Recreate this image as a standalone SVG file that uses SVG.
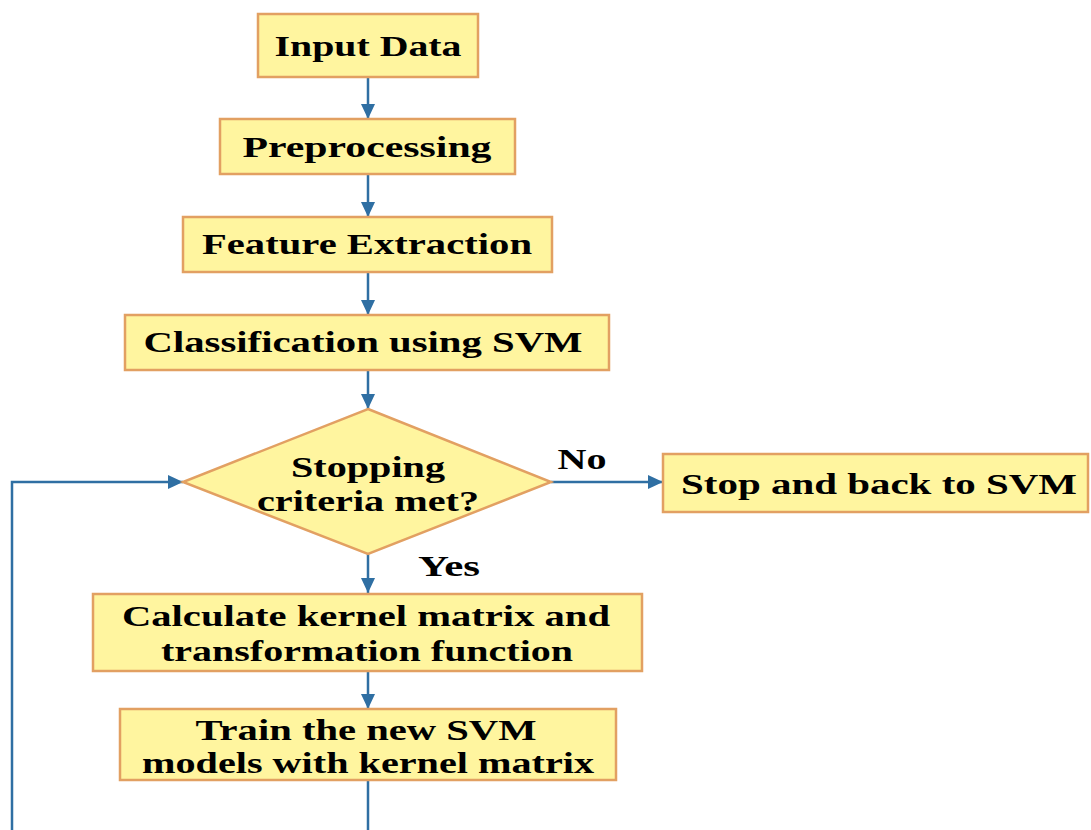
<svg xmlns="http://www.w3.org/2000/svg" width="1091" height="830" viewBox="0 0 1091 830">
  <style>
    .box { fill: #FFF59F; stroke: #E2A062; stroke-width: 2.5; }
    .t { font-family: "Liberation Serif", "Times New Roman", serif; font-weight: bold; font-size: 29px; fill: #000; text-anchor: middle; }
    .c { fill: none; stroke: #2F6FA3; stroke-width: 2.5; }
  </style>
  <defs>
    <marker id="arr" markerUnits="userSpaceOnUse" markerWidth="16" markerHeight="16" viewBox="0 0 16 16" refX="15" refY="8" orient="auto">
      <path d="M0,1 L15,8 L0,15 Z" fill="#2F6FA3"/>
    </marker>
  </defs>
  <rect width="1091" height="830" fill="#fff"/>

  <g id="connectors">
    <line class="c" x1="368" y1="77" x2="368" y2="119" marker-end="url(#arr)"/>
    <line class="c" x1="368" y1="174" x2="368" y2="217" marker-end="url(#arr)"/>
    <line class="c" x1="368" y1="272" x2="368" y2="315" marker-end="url(#arr)"/>
    <line class="c" x1="368" y1="370" x2="368" y2="409" marker-end="url(#arr)"/>
    <line class="c" x1="368" y1="554" x2="368" y2="593" marker-end="url(#arr)"/>
    <line class="c" x1="368" y1="671" x2="368" y2="709" marker-end="url(#arr)"/>
    <line class="c" x1="368" y1="780" x2="368" y2="832"/>
    <polyline class="c" points="12,832 12,482 183,482" marker-end="url(#arr)"/>
    <line class="c" x1="551" y1="482" x2="663" y2="482" marker-end="url(#arr)"/>
    <text class="t" x="582" y="469" textLength="49" lengthAdjust="spacingAndGlyphs">No</text>
    <text class="t" x="449" y="576" textLength="62" lengthAdjust="spacingAndGlyphs">Yes</text>
  </g>

  <g id="input">
    <rect class="box" x="258" y="14" width="220" height="63"/>
    <text class="t" x="368" y="56" textLength="187" lengthAdjust="spacingAndGlyphs">Input Data</text>
  </g>
  <g id="preprocessing">
    <rect class="box" x="220" y="119" width="295" height="55"/>
    <text class="t" x="367" y="157" textLength="249" lengthAdjust="spacingAndGlyphs">Preprocessing</text>
  </g>
  <g id="feature">
    <rect class="box" x="183" y="217" width="369" height="55"/>
    <text class="t" x="367" y="254" textLength="330" lengthAdjust="spacingAndGlyphs">Feature Extraction</text>
  </g>
  <g id="classification">
    <rect class="box" x="125" y="315" width="484" height="55"/>
    <text class="t" x="363" y="352" textLength="439" lengthAdjust="spacingAndGlyphs">Classification using SVM</text>
  </g>
  <g id="decision">
    <polygon class="box" points="368,409 551,482 368,554 183,482"/>
    <text class="t" x="368" y="477" textLength="154" lengthAdjust="spacingAndGlyphs">Stopping</text>
    <text class="t" x="368" y="511" textLength="222" lengthAdjust="spacingAndGlyphs">criteria met?</text>
  </g>
  <g id="stop">
    <rect class="box" x="663" y="454" width="425" height="58"/>
    <text class="t" x="879" y="494" textLength="396" lengthAdjust="spacingAndGlyphs">Stop and back to SVM</text>
  </g>
  <g id="calculate">
    <rect class="box" x="93" y="594" width="549" height="77"/>
    <text class="t" x="366" y="626" textLength="488" lengthAdjust="spacingAndGlyphs">Calculate kernel matrix and</text>
    <text class="t" x="367" y="661" textLength="412" lengthAdjust="spacingAndGlyphs">transformation function</text>
  </g>
  <g id="train">
    <rect class="box" x="120" y="709" width="496" height="71"/>
    <text class="t" x="366" y="740" textLength="341" lengthAdjust="spacingAndGlyphs">Train the new SVM</text>
    <text class="t" x="368" y="773" textLength="452" lengthAdjust="spacingAndGlyphs">models with kernel matrix</text>
  </g>
</svg>
